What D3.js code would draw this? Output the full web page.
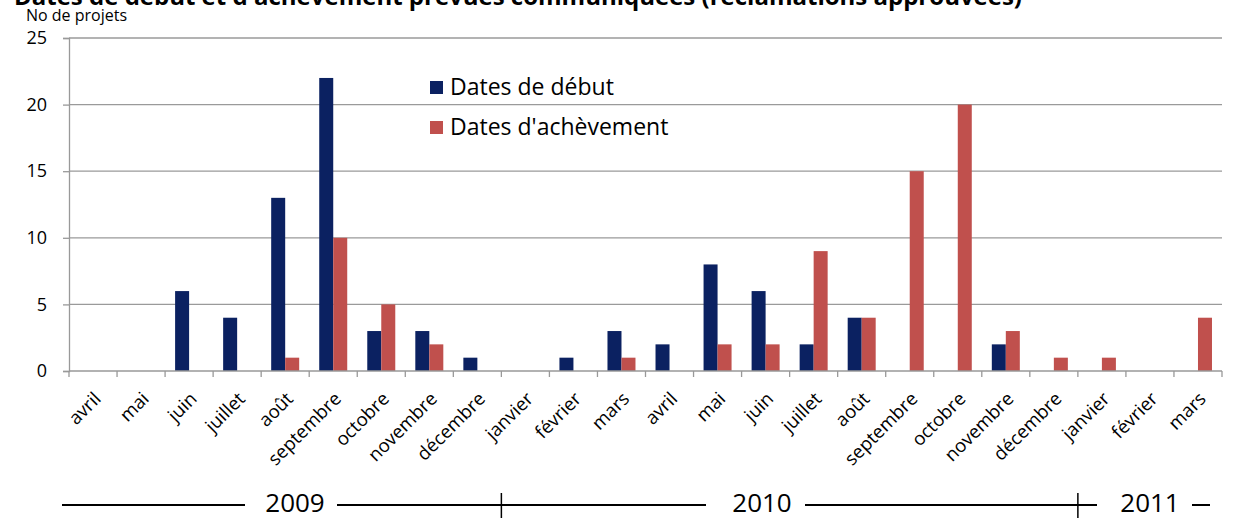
<!doctype html>
<meta charset="utf-8">
<style>
body { margin: 0; background: #fff; }
text { font-family: "Open Sans", "Noto Sans", sans-serif; fill: #000; }
</style>
<script src="https://d3js.org/d3.v7.min.js"></script>
<body>
<svg id="chart"></svg>
<script>
// months on the x axis, april 2009 to march 2011
var months = ["avril","mai","juin","juillet","août","septembre","octobre","novembre","décembre",
  "janvier","février","mars","avril","mai","juin","juillet","août","septembre","octobre","novembre","décembre",
  "janvier","février","mars"];
var debut = [0,0,6,4,13,22,3,3,1,0,1,3,2,8,6,2,4,0,0,2,0,0,0,0];
var acheve = [0,0,0,0,1,10,5,2,0,0,0,1,0,2,2,9,4,15,20,3,1,1,0,4];
var yTicks = [0,5,10,15,20,25];
var seriesNames = ["Dates de début","Dates d'achèvement"];
var years = ["2009","2010","2011"];

var width = 1236, height = 520;
var svg = d3.select("#chart").attr("width", width).attr("height", height);

var mLeft = 69, mRight = 1222, mTop = 38, mBottom = 371;

var x = d3.scaleBand().domain(d3.range(months.length)).range([mLeft, mRight]);
var y = d3.scaleLinear().domain([0, 25]).range([mBottom, mTop]);
var colors = ["#0b2161", "#c0504d"];
var barW = 14;

// title (cut by the top edge in the original)
svg.append("text")
  .attr("x", 14).attr("y", 5)
  .style("font-size", "24px").style("font-weight", "bold")
  .text("Dates de début et d'achèvement prévues communiquées (réclamations approuvées)");

svg.append("text")
  .attr("x", 26).attr("y", 21)
  .style("font-size", "16px")
  .text("No de projets");

// gridlines
svg.append("g").selectAll("line")
  .data(yTicks.filter(function(d){ return d > 0; }))
  .enter().append("line")
    .attr("x1", mLeft).attr("x2", mRight)
    .attr("y1", function(d){ return y(d); })
    .attr("y2", function(d){ return y(d); })
    .attr("stroke", "#9a9a9a").attr("stroke-width", 1.3);

// y axis
var yAxis = svg.append("g")
  .attr("transform", "translate(" + mLeft + ",0)")
  .call(d3.axisLeft(y).tickValues(yTicks).tickSize(6).tickPadding(16));
yAxis.selectAll("text").style("font-size", "18px").attr("fill", "#000");
yAxis.selectAll("line, path").attr("stroke", "#999").attr("stroke-width", 1.3);

// bars
var groups = [debut, acheve];
groups.forEach(function(vals, s){
  svg.append("g").selectAll("rect")
    .data(vals)
    .enter().append("rect")
      .attr("x", function(d, i){ return x(i) + x.bandwidth() / 2 - barW + s * barW; })
      .attr("y", function(d){ return y(d); })
      .attr("width", barW)
      .attr("height", function(d){ return mBottom - y(d); })
      .attr("fill", colors[s]);
});

// x axis with ticks at band boundaries
var xa = svg.append("g");
xa.append("line")
  .attr("x1", mLeft).attr("x2", mRight)
  .attr("y1", mBottom).attr("y2", mBottom)
  .attr("stroke", "#999").attr("stroke-width", 1.3);
xa.selectAll("line.tick")
  .data(d3.range(months.length + 1))
  .enter().append("line")
    .attr("class", "tick")
    .attr("x1", function(i){ return mLeft + i * x.bandwidth(); })
    .attr("x2", function(i){ return mLeft + i * x.bandwidth(); })
    .attr("y1", mBottom).attr("y2", mBottom + 6)
    .attr("stroke", "#999").attr("stroke-width", 1.3);
xa.selectAll("text")
  .data(months)
  .enter().append("text")
    .attr("transform", function(d, i){
      return "translate(" + (x(i) + x.bandwidth() / 2 + 9) + "," + (mBottom + 29) + ") rotate(-45)";
    })
    .attr("text-anchor", "end")
    .style("font-size", "18.5px")
    .text(function(d){ return d; });

// legend
var legend = svg.append("g").attr("transform", "translate(430,81)");
seriesNames.forEach(function(n, i){
  legend.append("rect")
    .attr("x", 0).attr("y", i * 40)
    .attr("width", 13).attr("height", 13)
    .attr("fill", colors[i]);
  legend.append("text")
    .attr("x", 20).attr("y", i * 40 + 14)
    .style("font-size", "23px")
    .text(n);
});

// year timeline under the axis
var yy = 505;
var yearG = svg.append("g");
var segs = [[62, 245], [337, 706], [805, 1097], [1192, 1210]];
segs.forEach(function(s){
  yearG.append("line")
    .attr("x1", s[0]).attr("x2", s[1])
    .attr("y1", yy).attr("y2", yy)
    .attr("stroke", "#000").attr("stroke-width", 2);
});
[9, 21].forEach(function(i){
  var bx = mLeft + i * x.bandwidth();
  yearG.append("line")
    .attr("x1", bx).attr("x2", bx)
    .attr("y1", yy - 12).attr("y2", yy + 13)
    .attr("stroke", "#000").attr("stroke-width", 1.5);
});
var yearX = [295, 762, 1150];
years.forEach(function(t, i){
  yearG.append("text")
    .attr("x", yearX[i]).attr("y", yy + 7)
    .attr("text-anchor", "middle")
    .style("font-size", "26px")
    .text(t);
});
</script>
</body>
